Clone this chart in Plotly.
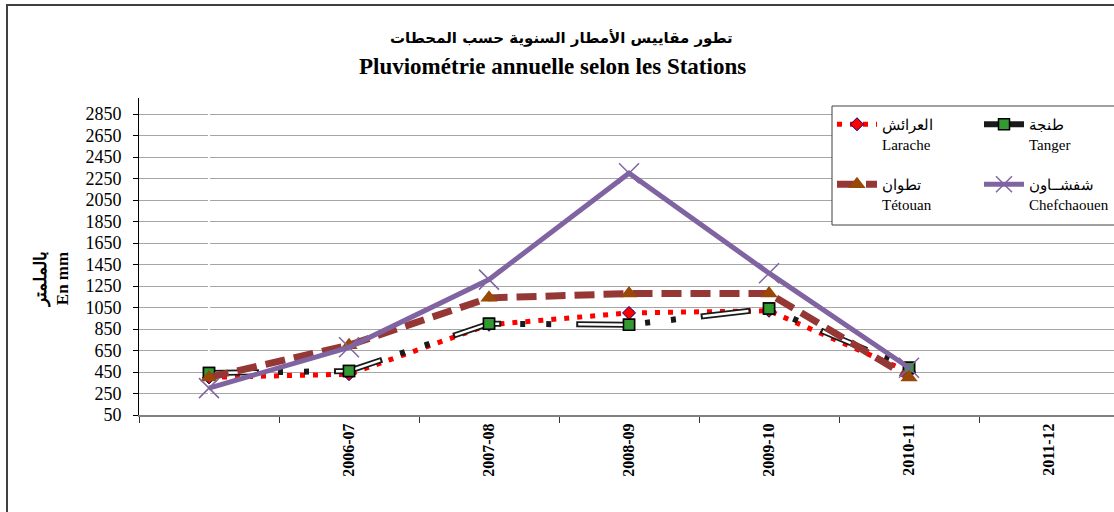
import plotly.graph_objects as go

# categories (first season has no label on the original chart)
seasons = ["", "2006-07", "2007-08", "2008-09", "2009-10", "2010-11", "2011-12"]
x_pos = list(range(len(seasons)))

# annual rainfall, mm
larache = [400, 430, 890, 1000, 1020, 450, None]
tanger = [440, 460, 900, 890, 1040, 490, None]
tetouan = [400, 700, 1140, 1180, 1180, 400, None]
chefchaouen = [300, 680, 1310, 2300, 1370, 490, None]

y_ticks = list(range(50, 2851, 200))

serif = "Liberation Serif"

# plot area in pixels: x 139..1114, y 98..415
def px_x(p):
    return (p - 139) / 975.0

def px_y(p):
    return (415 - p) / 317.0

fig = go.Figure()

fig.add_trace(go.Scatter(
    x=x_pos, y=larache, mode="lines+markers", name="العرائش<br>Larache",
    line=dict(color="red", width=5, dash="5px,8px"),
    marker=dict(symbol="diamond", size=10, color="red", line=dict(color="#000080", width=1)),
    legend="legend",
))
# tanger: black dash-dot-dot line with white core on the long dashes
fig.add_trace(go.Scatter(
    x=x_pos, y=tanger, mode="lines+markers", name="طنجة<br>Tanger",
    line=dict(color="#1a1a1a", width=6, dash="50px,19px,5px,21px,5px,25px"),
    marker=dict(symbol="square", size=11, color="#339933", line=dict(color="black", width=1.5)),
    legend="legend",
))
fig.add_trace(go.Scatter(
    x=x_pos, y=tanger, mode="lines+markers", showlegend=False,
    line=dict(color="white", width=2.5, dash="0px,2px,46px,77px"),
    marker=dict(symbol="square", size=11, color="#339933", line=dict(color="black", width=1.5)),
))
fig.add_trace(go.Scatter(
    x=x_pos, y=tetouan, mode="lines+markers", name="تطوان<br>Tétouan",
    line=dict(color="#953735", width=7, dash="20px,9px"),
    marker=dict(symbol="triangle-up", size=15, color="#984807"),
    legend="legend2",
))
fig.add_trace(go.Scatter(
    x=x_pos, y=chefchaouen, mode="lines+markers", name="شفشــاون<br>Chefchaouen",
    line=dict(color="#8064A2", width=5),
    marker=dict(symbol="x-thin", size=20, color="#8064A2", line=dict(color="#8064A2", width=1.5)),
    legend="legend2",
))

legend_style = dict(
    orientation="h", xanchor="left", yanchor="top",
    bgcolor="rgba(0,0,0,0)", borderwidth=0,
    itemwidth=40, entrywidth=92, entrywidthmode="pixels", valign="top",
    font=dict(family=serif, size=15, color="black"),
)

fig.update_layout(
    width=1114, height=512,
    margin=dict(l=139, r=0, t=98, b=97, autoexpand=False),
    paper_bgcolor="white", plot_bgcolor="white",
    showlegend=True,
    legend=dict(x=px_x(832), y=px_y(108), **legend_style),
    legend2=dict(x=px_x(832), y=px_y(168), **legend_style),
    xaxis=dict(
        range=[-0.5, 6.464], tickmode="array", tickvals=x_pos, ticktext=seasons,
        tickangle=-90, ticks="", showgrid=False,
        tickfont=dict(family=serif, size=16, color="black", weight="bold"),
        showline=True, linecolor="#808080", linewidth=2,
        minor=dict(tickmode="array", tickvals=[i + 0.5 for i in range(-1, 6)],
                   ticks="outside", ticklen=6, tickcolor="#333333", tickwidth=1, showgrid=False),
    ),
    yaxis=dict(
        range=[50, 3000], tickmode="array", tickvals=y_ticks,
        ticks="outside", ticklen=5, tickcolor="black", ticklabelstandoff=8,
        showgrid=True, gridcolor="#A6A6A6", gridwidth=1, zeroline=False,
        showline=True, linecolor="black", linewidth=1,
        tickfont=dict(family=serif, size=18, color="black"),
    ),
    shapes=[
        # outer chart border
        dict(type="rect", xref="paper", yref="paper", x0=px_x(7), x1=1.2, y0=-0.5, y1=px_y(5),
             line=dict(color="#404040", width=2), fillcolor="rgba(0,0,0,0)", layer="below"),
        # legend box
        dict(type="rect", xref="paper", yref="paper", x0=px_x(832), x1=1.05, y0=px_y(225), y1=px_y(106),
             line=dict(color="#404040", width=1), fillcolor="white", layer="above"),
    ],
    annotations=[
        dict(text="<b>تطور مقاييس الأمطار السنوية حسب المحطات</b>", xref="paper", yref="paper",
             x=px_x(561), y=px_y(38), showarrow=False, xanchor="center", yanchor="middle",
             font=dict(family="DejaVu Sans", size=15, color="black")),
        dict(text="<b>Pluviométrie annuelle selon les Stations</b>", xref="paper", yref="paper",
             x=px_x(552), y=px_y(67), showarrow=False, xanchor="center", yanchor="middle",
             font=dict(family=serif, size=23, color="black")),
        dict(text="<b>بالملمتر<br>En mm</b>", xref="paper", yref="paper",
             x=px_x(51), y=px_y(280), showarrow=False, textangle=-90,
             xanchor="center", yanchor="middle",
             font=dict(family=serif, size=17, color="black")),
    ],
)

fig.write_html("out.html", config={"displayModeBar": False},
               post_script="document.body.style.margin='0';")
